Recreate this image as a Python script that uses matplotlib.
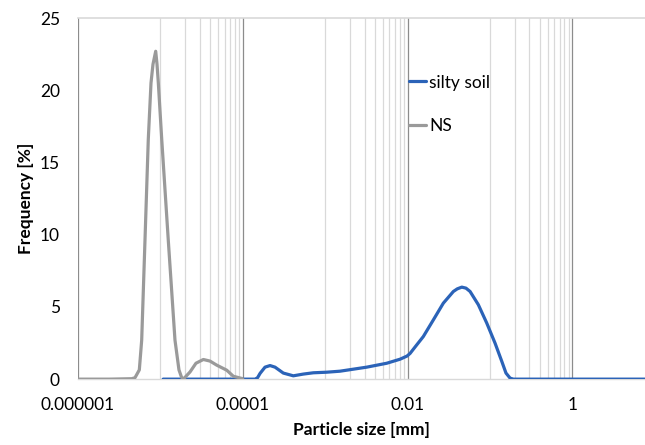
import numpy as np
import matplotlib
matplotlib.use('Agg')
import matplotlib.pyplot as plt
import matplotlib.ticker as ticker

plt.rcParams.update({
    'font.family': ['Lato', 'DejaVu Sans'],
    'font.size': 12.5,
})

# ---- data ----
ns_size = [1e-6, 2.4e-6, 4.5e-6, 4.92e-6, 5.55e-6, 5.93e-6, 6.5e-6, 7.13e-6, 7.69e-6,
           8.13e-6, 8.77e-6, 9.1e-6, 9.44e-6, 1.038e-5, 1.247e-5, 1.503e-5, 1.68e-5,
           1.8e-5, 1.9e-5, 2.29e-5, 2.7e-5, 3.32e-5, 4.0e-5, 4.82e-5,
           6.38e-5, 7.67e-5, 9.7e-5, 1e-4]
ns_freq = [0.0, 0.0, 0.03, 0.1, 0.64, 2.7, 9.6, 16.6, 20.5,
           21.8, 22.7, 21.8, 20.5, 16.6, 9.6, 2.7, 0.64,
           0.15, 0.0, 0.5, 1.1, 1.36, 1.25, 0.97,
           0.62, 0.2, 0.05, 0.0]

silt_size = [1.08e-5, 1.41e-4, 1.51e-4, 1.62e-4, 1.86e-4, 2.14e-4, 2.46e-4, 3.1e-4,
             4.1e-4, 5.42e-4, 7.17e-4, 1.04e-3, 1.51e-3, 3.19e-3, 5.57e-3, 8.09e-3,
             9.84e-3, 1.07e-2, 1.26e-2, 1.55e-2, 2.05e-2, 2.71e-2, 3.59e-2, 4.0e-2,
             4.54e-2, 5.1e-2, 5.72e-2, 7.21e-2, 9.12e-2, 0.115, 0.139, 0.156, 0.175,
             0.192, 1.0, 10.0]
silt_freq = [0.0, 0.0, 0.1, 0.4, 0.83, 0.94, 0.83, 0.42,
             0.23, 0.35, 0.44, 0.48, 0.55, 0.83, 1.1, 1.38,
             1.6, 1.78, 2.3, 2.95, 4.1, 5.26, 6.07, 6.25,
             6.37, 6.3, 6.07, 5.15, 3.88, 2.49, 1.22, 0.42, 0.07,
             0.0, 0.0, 0.0]

major_ticks = [1e-6, 1e-4, 1e-2, 1]
tick_labels = ['0.000001', '0.0001', '0.01', '1']
minor_ticks = [k * 1e-5 for k in range(1, 10)] + [k * 1e-3 for k in range(1, 10)] \
    + [k * 1e-1 for k in range(1, 10)]

C = {'silt': '#2B63B8', 'ns': '#9A9A9A', 'minor': '#D9D9D9', 'major': '#8C8C8C'}

fig = plt.figure(figsize=(6.45, 4.45), dpi=100)
ax = fig.add_axes([0.1209, 0.148, 0.8791, 0.8115])

ax.set_xscale('log')
ax.set_xlim(1e-6, 10 ** 0.88)
ax.set_ylim(0, 25)

# gridlines (Excel style log base 100)
for v in minor_ticks:
    ax.axvline(v, color=C['minor'], linewidth=0.9, zorder=0)
for v in major_ticks:
    ax.axvline(v, color=C['major'], linewidth=0.9, zorder=0)
ax.axhline(25, color=C['minor'], linewidth=1.2, zorder=0, clip_on=False)

ax.plot(silt_size, silt_freq, color=C['silt'], linewidth=2.3, label='silty soil',
        solid_capstyle='round', solid_joinstyle='round', zorder=3)
ax.plot(ns_size, ns_freq, color=C['ns'], linewidth=2.3, label='NS',
        solid_capstyle='round', solid_joinstyle='round', zorder=3)

ax.xaxis.set_major_locator(ticker.FixedLocator(major_ticks))
ax.xaxis.set_major_formatter(ticker.FixedFormatter(tick_labels))
ax.xaxis.set_minor_locator(ticker.NullLocator())
ax.yaxis.set_major_locator(ticker.MultipleLocator(5))
ax.tick_params(axis='both', length=0, labelsize=12.5)
ax.tick_params(axis='y', pad=13)
ax.tick_params(axis='x', pad=13)

for s in ['top', 'right', 'left']:
    ax.spines[s].set_visible(False)
ax.spines['bottom'].set_color(C['minor'])
ax.spines['bottom'].set_linewidth(1.0)

ax.set_xlabel('Particle size [mm]', fontweight='bold', fontsize=12.5, labelpad=6)
ax.set_ylabel('Frequency [%]', fontweight='bold', fontsize=12.5, labelpad=4)

ax.legend(loc='upper left', bbox_to_anchor=(0.620, 0.852), bbox_transform=fig.transFigure,
          frameon=False, handlelength=1.0, handletextpad=0.2, labelspacing=1.6,
          fontsize=12.5, borderpad=0)

fig.savefig('out.png', dpi=100)
